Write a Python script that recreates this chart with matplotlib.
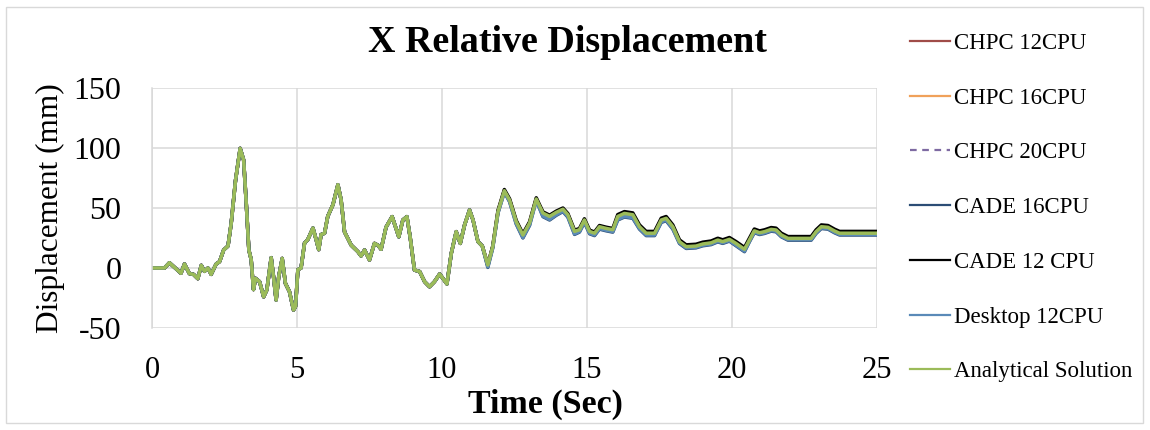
import matplotlib.pyplot as plt
from matplotlib.patches import Rectangle
import numpy as np

plt.rcParams["font.family"] = ["Liberation Serif", "DejaVu Serif"]
plt.rcParams["axes.unicode_minus"] = False

# time history, seconds
time_s = [
    0.00, 0.43, 0.60, 0.80, 1.00, 1.12, 1.29, 1.43, 1.58, 1.70,
    1.81, 1.93, 2.04, 2.21, 2.33, 2.47, 2.62, 2.73, 2.88, 3.04,
    3.16, 3.25, 3.34, 3.42, 3.50, 3.57, 3.71, 3.85, 3.96, 4.11,
    4.19, 4.28, 4.37, 4.49, 4.60, 4.74, 4.88, 4.95, 5.03, 5.14,
    5.26, 5.37, 5.55, 5.66, 5.75, 5.83, 5.95, 6.06, 6.24, 6.41,
    6.52, 6.64, 6.87, 7.10, 7.21, 7.33, 7.50, 7.67, 7.79, 7.90,
    8.07, 8.28, 8.36, 8.51, 8.65, 8.79, 8.90, 9.05, 9.23, 9.40,
    9.57, 9.74, 9.92, 10.03, 10.17, 10.32, 10.49, 10.63, 10.78, 10.95,
    11.07, 11.24, 11.39, 11.58, 11.75, 11.93, 12.15, 12.33, 12.56, 12.79,
    13.02, 13.25, 13.48, 13.71, 13.94, 14.17, 14.34, 14.57, 14.74, 14.91,
    15.09, 15.26, 15.43, 15.66, 15.89, 16.06, 16.29, 16.58, 16.81, 17.04,
    17.33, 17.56, 17.73, 17.96, 18.19, 18.42, 18.76, 18.99, 19.28, 19.51,
    19.68, 19.91, 20.14, 20.43, 20.60, 20.77, 20.95, 21.12, 21.35, 21.52,
    21.70, 21.93, 22.33, 22.73, 22.90, 23.08, 23.31, 23.54, 23.71, 24.17,
    25.00,
]

# analytical relative displacement, mm
analytical_mm = [
    0.0, 0.0, 4.4, 0.0, -4.4, 3.3, -4.7, -5.3, -8.9, 2.2,
    -2.8, 0.0, -5.3, 3.3, 5.3, 15.0, 18.3, 37.0, 73.0, 99.7,
    90.0, 54.0, 15.0, 7.0, -18.0, -8.6, -11.4, -24.0, -18.3, 8.6,
    -7.2, -26.7, -7.2, 8.0, -12.8, -19.7, -35.0, -32.0, -1.4, 0.0,
    20.8, 23.6, 33.3, 23.6, 15.3, 27.8, 29.0, 43.0, 52.8, 69.4,
    56.9, 30.0, 19.0, 13.6, 10.0, 15.0, 6.7, 20.5, 19.0, 15.6,
    34.0, 42.8, 37.0, 26.0, 40.0, 42.8, 26.0, -1.7, -3.0, -11.4,
    -15.6, -11.4, -5.0, -8.6, -13.3, 12.2, 30.3, 20.5, 36.0, 48.3,
    40.0, 22.0, 18.3, 2.5, 17.8, 46.9, 64.4, 56.7, 38.6, 27.5,
    37.5, 57.5, 45.8, 43.0, 46.4, 49.0, 44.4, 30.5, 31.9, 40.0,
    30.5, 29.0, 34.4, 33.0, 31.9, 43.0, 45.5, 44.4, 34.4, 29.0,
    29.0, 40.0, 41.4, 34.4, 21.9, 17.8, 18.3, 20.0, 21.0, 23.3,
    22.0, 23.9, 20.5, 15.6, 23.3, 31.0, 29.4, 30.3, 32.2, 31.7,
    27.5, 24.7, 24.7, 24.7, 30.3, 34.4, 33.9, 30.8, 29.0, 29.0,
    29.0,
]

# deviation of the CADE 12 CPU run from the analytical curve (mm)
cade12_dev = [0.0] * 83 + [
    0.0, 0.5, 1.0, 1.0, 1.0, 1.0, 1.0,
    1.0, 1.0, 1.0, 1.0, 1.0, 1.0, 1.0, 1.0, 1.0, 1.0,
    1.0, 1.0, 1.0, 1.0, 1.0, 1.5, 1.5, 1.5, 1.5, 1.5,
    1.5, 1.5, 1.5, 1.5, 1.5, 1.5, 1.5, 1.5, 1.5, 1.5,
    1.5, 1.5, 1.5, 1.5, 1.5, 1.5, 1.5, 1.5, 1.5, 1.5,
    1.5, 1.5, 1.5, 1.5, 1.5, 1.5, 1.5, 1.5, 1.5, 1.5,
    1.5,
]

# deviation of the CADE 16 CPU run from the analytical curve (mm)
cade16_dev = [0.0] * 83 + [
    -2.0, -1.0, -1.0, -1.0, -1.5, -2.0, -2.5,
    -2.0, -1.0, -3.0, -3.0, -2.5, -2.0, -2.0, -2.5, -2.0, -2.0,
    -2.0, -2.0, -2.0, -2.0, -2.0, -3.0, -3.0, -3.0, -2.0, -2.0,
    -2.0, -2.0, -2.0, -2.0, -1.5, -1.5, -1.5, -1.5, -1.5, -1.5,
    -1.5, -1.5, -2.0, -2.0, -1.5, -1.5, -1.5, -1.5, -1.5, -1.5,
    -1.5, -1.5, -1.5, -1.5, -1.5, -1.5, -1.5, -1.5, -1.5, -1.5,
    -1.5,
]

# deviation of the desktop run from the analytical curve (mm)
desktop_dev = [0.0] * 83 + [
    -1.5, -1.0, -1.0, -1.0, -1.0, -1.5, -2.0,
    -1.5, -1.0, -2.5, -2.5, -2.0, -1.5, -1.5, -2.0, -1.5, -1.5,
    -1.5, -1.5, -1.5, -1.5, -1.5, -2.5, -2.5, -2.5, -1.5, -1.5,
    -1.5, -1.5, -1.5, -1.5, -1.0, -1.0, -1.0, -1.0, -1.0, -1.0,
    -1.0, -1.0, -1.5, -1.5, -1.0, -1.0, -1.0, -1.0, -1.0, -1.0,
    -1.0, -1.0, -1.0, -1.0, -1.0, -1.0, -1.0, -1.0, -1.0, -1.0,
    -1.0,
]

t = np.array(time_s)
base = np.array(analytical_mm)

series = [
    ("CHPC 12CPU", base, "#A04C48", "-"),
    ("CHPC 16CPU", base, "#F0A15A", "-"),
    ("CHPC 20CPU", base, "#7E6AA2", (0, (3, 2.5))),
    ("CADE 16CPU", base + np.array(cade16_dev), "#2C4D75", "-"),
    ("CADE 12 CPU", base + np.array(cade12_dev), "#000000", "-"),
    ("Desktop 12CPU", base + np.array(desktop_dev), "#5A8AB8", "-"),
    ("Analytical Solution", base, "#9BBB59", "-"),
]

fig = plt.figure(figsize=(11.5, 4.3), dpi=100)
ax = fig.add_axes([152 / 1150, 1 - 328 / 430, 725 / 1150, 240 / 430])

for name, y, color, ls in series:
    ax.plot(t, y, color=color, lw=2.5, ls=ls, label=name,
            solid_joinstyle="round", solid_capstyle="round")

ax.set_xlim(0, 25)
ax.set_ylim(-50, 150)
ax.set_xticks([0, 5, 10, 15, 20, 25])
ax.set_yticks([-50, 0, 50, 100, 150])
ax.grid(True, color="#d9d9d9", lw=1.1)
ax.set_axisbelow(True)
for s in ["top", "right", "bottom"]:
    ax.spines[s].set_visible(False)
ax.spines["left"].set_color("#d9d9d9")
ax.spines["left"].set_linewidth(1.1)
ax.tick_params(axis="both", length=0)
ax.tick_params(axis="y", labelsize=23, pad=22)
ax.tick_params(axis="x", labelsize=22, pad=20)

ax.set_ylabel("Displacement (mm)", fontsize=22.5, labelpad=6)
fig.text(545 / 1150, 1 - 413 / 430, "Time (Sec)", fontsize=24.5,
         fontweight="bold", ha="center", va="baseline")
fig.text(567 / 1150, 1 - 42 / 430, "X Relative Displacement", fontsize=27.4,
         fontweight="bold", ha="center", va="center")

# legend with the proxy lines drawn thin
leg_handles = []
for name, y, color, ls in series:
    (h,) = ax.plot([], [], color=color, lw=1.6, ls=ls)
    leg_handles.append(h)
fig.legend(leg_handles, [s[0] for s in series], loc="upper left",
           bbox_to_anchor=(910 / 1150, 1 - 33 / 430), frameon=False,
           fontsize=16.5, handlelength=1.75, handletextpad=0.15,
           labelspacing=1.47, borderpad=0, borderaxespad=0)

fig.patches.append(Rectangle((6 / 1150, 7 / 430), 1137 / 1150, 416 / 430,
                             transform=fig.transFigure, fill=False,
                             edgecolor="#d9d9d9", lw=1))

fig.savefig("out.png", dpi=100, facecolor="white")
